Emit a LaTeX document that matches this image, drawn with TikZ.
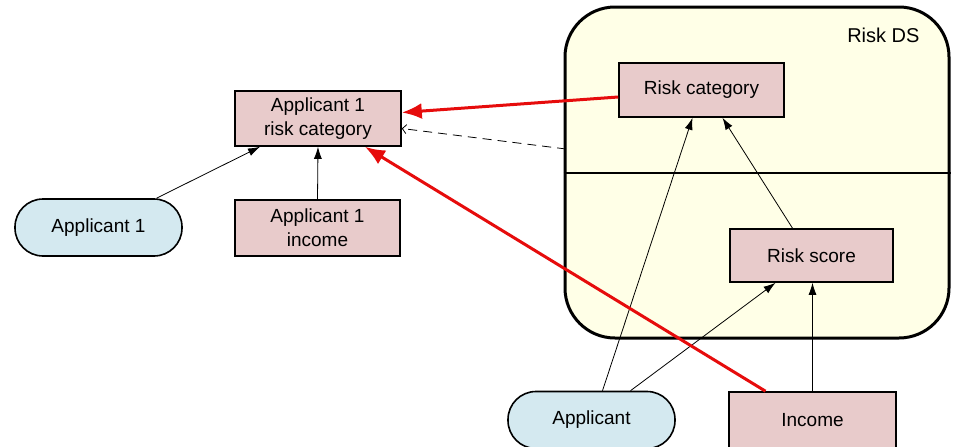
\documentclass[tikz,border=0pt]{standalone}
\usepackage{fontspec}
\setmainfont{Liberation Sans}
\usetikzlibrary{arrows,arrows.meta,positioning}
\definecolor{boxpink}{RGB}{232,203,203}
\definecolor{ovalblue}{RGB}{212,233,240}
\definecolor{dscream}{RGB}{255,255,231}
\definecolor{linkred}{RGB}{230,12,12}
\tikzstyle{block} = [draw, rectangle, fill=boxpink, line width=1.6pt, minimum width=165pt, minimum height=55pt, align=center, font=\fontsize{19}{24}\selectfont]
\tikzstyle{entity} = [draw, rectangle, rounded corners=28pt, fill=ovalblue, line width=1.6pt, minimum width=167pt, minimum height=57pt, font=\fontsize{19}{24}\selectfont]
\tikzstyle{store} = [draw, rectangle, rounded corners=50pt, fill=dscream, line width=3pt]
\tikzstyle{link} = [->, line width=0.8pt]
\tikzstyle{redlink} = [-{Latex[length=20pt,width=16pt]}, draw=linkred, line width=3pt]

\begin{document}
\begin{tikzpicture}[x=1pt, y=-1pt, >={Latex[length=12pt,width=8pt]}]
    \useasboundingbox (0,0) rectangle (953,447);
    % the data structure
    \node [store, minimum width=384pt, minimum height=331pt] (ds) at (757,172.5) {};
    \node [anchor=east, font=\fontsize{20}{24}\selectfont] (dsname) at (923,35) {Risk DS};
    \coordinate (divl) at (ds.west |- 0,173);
    \coordinate (divr) at (ds.east |- 0,173);
    \draw [line width=1.2pt] (divl) -- (divr);
    \node [block, minimum width=165pt, minimum height=54pt] (rcat) at (701.5,90) {Risk category};
    \node [block, minimum width=163pt, minimum height=53pt] (rscore) at (811.5,255.5) {Risk score};
    % inputs
    \node [entity] (applicant) at (591.5,420) {Applicant};
    \node [block, minimum width=167pt, minimum height=56pt] (income) at (812.5,420) {Income};
    % the instance
    \node [block, minimum width=166pt] (a1cat) at (318,118.5) {Applicant 1\\risk category};
    \node [block, minimum height=56pt] (a1inc) at (317.5,228) {Applicant 1\\income};
    \node [entity] (a1) at (98.5,227.5) {Applicant 1};
    \coordinate (dsleft) at (566,149);

    \draw [link] ([xshift=58pt]a1.north) -- ([xshift=-58pt]a1cat.south);
    \draw [link] (a1inc.north) -- (a1cat.south);
    \draw [link] ([xshift=11pt]applicant.north) -- ([xshift=-9pt]rcat.south);
    \draw [link] ([xshift=39pt]applicant.north) -- ([xshift=-36pt]rscore.south);
    \draw [link] ([xshift=-19pt]rscore.north) -- ([xshift=21pt]rcat.south);
    \draw [link] (income.north) -- (income.north |- rscore.south);
    \draw [-{Straight Barb[length=4pt,width=9pt]}, line width=0.8pt, dash pattern=on 9pt off 6pt] (dsleft) -- ([yshift=-10pt]a1cat.east);
    %\draw [link] (ds.west) -- (a1cat.east);
    \draw [redlink] ([yshift=-7pt]rcat.west) -- ([yshift=6pt]a1cat.east);
    \draw [redlink] ([xshift=-47pt]income.north) -- ([xshift=47pt]a1cat.south);
\end{tikzpicture}
\end{document}
